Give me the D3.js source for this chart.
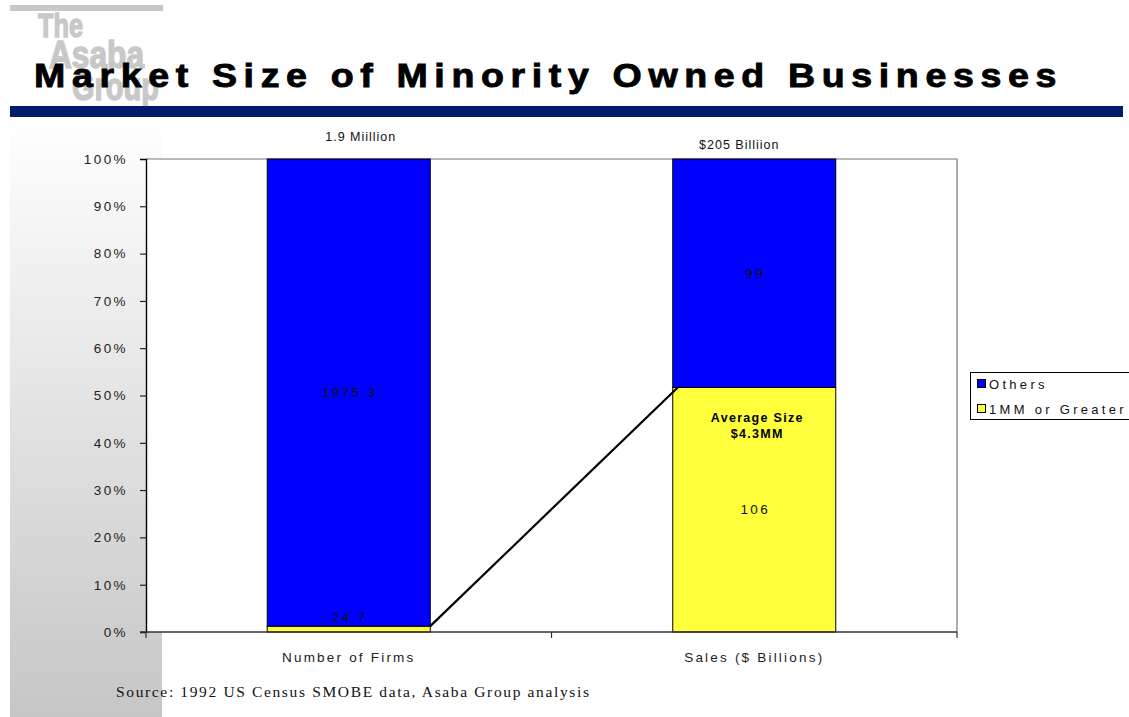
<!DOCTYPE html>
<html>
<head>
<meta charset="utf-8">
<script src="https://cdn.jsdelivr.net/npm/d3@7"></script>
<style>
  html, body { margin: 0; padding: 0; background: #fff; }
  svg { display: block; }
</style>
</head>
<body>
<svg id="chart" width="1129" height="717"></svg>
<script>
// Chart data
const categories = ["Number of Firms", "Sales ($ Billions)"];
const seriesNames = ["1MM or Greater", "Others"];
const greaterValues = [24.7, 106];
const othersValues = [1975.3, 99];
const totalLabels = ["1.9 Miillion", "$205 Billiion"];
const yTickValues = [0, 0.1, 0.2, 0.3, 0.4, 0.5, 0.6, 0.7, 0.8, 0.9, 1.0];
const seriesColors = ["#ffff3c", "#0000ff"];
const legendOrder = ["Others", "1MM or Greater"];
const titleText = "Market Size of Minority Owned Businesses";
const sourceText = "Source: 1992 US Census SMOBE data, Asaba Group analysis";
const calloutLines = ["Average Size", "$4.3MM"];

const SANS = '"Liberation Sans", Arial, sans-serif';
const SERIF = '"Liberation Serif", "Times New Roman", serif';
const NARROW = '"Liberation Sans Narrow", "Liberation Sans", Arial, sans-serif';

const svg = d3.select("#chart").style("font-family", SANS);
const W = 1129, H = 717;

// Side panel gradient
const defs = svg.append("defs");
const grad = defs.append("linearGradient").attr("id", "sideGrad")
  .attr("x1", 0).attr("y1", 0).attr("x2", 0).attr("y2", 1);
grad.append("stop").attr("offset", "0%").attr("stop-color", "#ffffff");
grad.append("stop").attr("offset", "100%").attr("stop-color", "#c6c6c6");
svg.append("rect").attr("x", 10).attr("y", 118).attr("width", 152).attr("height", H - 118)
  .attr("fill", "url(#sideGrad)");

// Logo
const logoColor = "#c8c8c8";
const logo = svg.append("g");
logo.append("rect").attr("x", 10).attr("y", 5).attr("width", 153).attr("height", 6).attr("fill", logoColor);
const logoWords = [
  { t: "The", x: 38, y: 37, size: 34, len: 45 },
  { t: "Asaba", x: 49, y: 68, size: 38, len: 95 },
  { t: "Group", x: 72, y: 100, size: 38, len: 87 }
];
logo.selectAll("text").data(logoWords).enter().append("text")
  .attr("x", d => d.x).attr("y", d => d.y).text(d => d.t)
  .style("font-family", NARROW).style("font-weight", "bold")
  .style("font-size", d => d.size + "px")
  .attr("textLength", d => d.len).attr("lengthAdjust", "spacingAndGlyphs")
  .style("fill", logoColor).style("stroke", logoColor).style("stroke-width", 1.4);

// Title
svg.append("text").attr("x", 34).attr("y", 87).text(titleText)
  .style("font-family", SANS).style("font-weight", "bold").style("font-size", "34px")
  .style("letter-spacing", "6px")
  .attr("textLength", 1029).attr("lengthAdjust", "spacingAndGlyphs")
  .style("fill", "#000").style("stroke", "#000").style("stroke-width", 0.9);

// Title rule
svg.append("rect").attr("x", 10).attr("y", 106).attr("width", 1113).attr("height", 11)
  .attr("fill", "#001b6e");

// Plot area
const plot = { left: 146, right: 957, top: 159, bottom: 632 };

const x = d3.scaleBand().domain(categories)
  .range([plot.left, plot.right]).paddingInner(0.598).paddingOuter(0.299);
const y = d3.scaleLinear().domain([0, 1]).range([plot.bottom, plot.top]);

const rows = categories.map((c, i) => ({
  category: c,
  "1MM or Greater": greaterValues[i],
  "Others": othersValues[i]
}));
const stacked = d3.stack().keys(seriesNames).offset(d3.stackOffsetExpand)(rows);
const color = d3.scaleOrdinal().domain(seriesNames).range(seriesColors);

svg.append("rect").attr("x", plot.left).attr("y", plot.top)
  .attr("width", plot.right - plot.left).attr("height", plot.bottom - plot.top)
  .attr("fill", "#fff");

// Plot border (top and right)
svg.append("path")
  .attr("d", `M${plot.left},${plot.top}H${plot.right}V${plot.bottom}`)
  .attr("fill", "none").attr("stroke", "#777").attr("stroke-width", 1.2);

// Bars
const barG = svg.append("g");
stacked.forEach(layer => {
  barG.selectAll(null).data(layer).enter().append("rect")
    .attr("x", d => x(d.data.category))
    .attr("width", x.bandwidth())
    .attr("y", d => y(d[1]))
    .attr("height", d => y(d[0]) - y(d[1]))
    .attr("fill", color(layer.key))
    .attr("stroke", "#000").attr("stroke-width", 1);
});

// Connector between the tops of the "1MM or Greater" segments
const gLayer = stacked[0];
svg.append("line")
  .attr("x1", x(categories[0]) + x.bandwidth()).attr("y1", y(gLayer[0][1]))
  .attr("x2", x(categories[1]) + 5).attr("y2", y(gLayer[1][1]))
  .attr("stroke", "#000").attr("stroke-width", 2.2);

// Axes
const yAxis = d3.axisLeft(y).tickValues(yTickValues).tickSize(6).tickPadding(12)
  .tickFormat(d => Math.round(d * 100) + "%");
const yG = svg.append("g").attr("transform", `translate(${plot.left},0)`).call(yAxis);
yG.select(".domain").attr("stroke", "#000").attr("stroke-width", 1.4);
yG.selectAll(".tick line").attr("stroke", "#000");
yG.selectAll(".tick text").style("font-size", "13.5px").style("letter-spacing", "2.4px")
  .style("font-family", SANS).attr("fill", "#222");

const xAxis = d3.axisBottom(x).tickSize(0).tickSizeOuter(0).tickPadding(20);
const xG = svg.append("g").attr("transform", `translate(0,${plot.bottom})`).call(xAxis);
xG.select(".domain").attr("stroke", "#333").attr("stroke-width", 1.4)
  .attr("d", `M${plot.left - 6},0H${plot.right}`);
xG.selectAll(".tick text").style("font-size", "13.5px").style("letter-spacing", "2.2px")
  .style("font-family", SANS).attr("fill", "#222");
// Category separator ticks
const sepTicks = [plot.left, (plot.left + plot.right) / 2, plot.right];
xG.selectAll(".sep").data(sepTicks).enter().append("line")
  .attr("x1", d => d).attr("x2", d => d).attr("y1", 0).attr("y2", 6)
  .attr("stroke", "#333").attr("stroke-width", 1.2);

// Segment value labels
const labelG = svg.append("g").style("font-size", "13.5px").style("letter-spacing", "2.4px")
  .attr("text-anchor", "middle").attr("fill", "#111");
stacked.forEach((layer, li) => {
  layer.forEach((d, i) => {
    const v = li === 0 ? greaterValues[i] : othersValues[i];
    const cx = x(d.data.category) + x.bandwidth() / 2;
    const h = y(d[0]) - y(d[1]);
    const cy = h < 20 ? y(d[1]) - 9 : (y(d[0]) + y(d[1])) / 2;
    labelG.append("text").attr("x", cx + 1).attr("y", cy).attr("dy", "0.35em").text(v);
  });
});

// Totals above bars
const totalOffsets = [{ dx: 12, y: 137 }, { dx: -15, y: 145 }];
svg.append("g").selectAll("text").data(totalLabels).enter().append("text")
  .attr("x", (d, i) => x(categories[i]) + x.bandwidth() / 2 + totalOffsets[i].dx)
  .attr("y", (d, i) => totalOffsets[i].y).attr("dy", "0.35em")
  .attr("text-anchor", "middle").style("font-size", "12.5px").style("letter-spacing", "1px")
  .attr("fill", "#111").text(d => d);

// Callout inside the sales "1MM or Greater" segment
const calloutX = x(categories[1]) + x.bandwidth() / 2 + 3;
svg.append("g").selectAll("text").data(calloutLines).enter().append("text")
  .attr("x", calloutX).attr("y", (d, i) => 418 + i * 16).attr("dy", "0.35em")
  .attr("text-anchor", "middle").style("font-weight", "bold").style("font-size", "12.5px")
  .style("letter-spacing", "1.3px").attr("fill", "#000").text(d => d);

// Legend
const lg = svg.append("g");
lg.append("rect").attr("x", 970.5).attr("y", 372.5).attr("width", 170).attr("height", 47)
  .attr("fill", "#fff").attr("stroke", "#000").attr("stroke-width", 1);
const legendRows = lg.selectAll("g.row").data(legendOrder).enter().append("g")
  .attr("class", "row").attr("transform", (d, i) => `translate(0,${384 + i * 25})`);
legendRows.append("rect").attr("x", 977.5).attr("y", -4.5).attr("width", 8).attr("height", 8)
  .attr("fill", d => color(d)).attr("stroke", "#000").attr("stroke-width", 1);
legendRows.append("text").attr("x", 989).attr("y", 0).attr("dy", "0.35em")
  .style("font-size", "13px").style("letter-spacing", "3.3px").attr("fill", "#111").text(d => d);

// Source note
svg.append("text").attr("x", 116).attr("y", 697).text(sourceText)
  .style("font-family", SERIF).style("font-size", "15.5px")
  .attr("textLength", 473).attr("lengthAdjust", "spacing")
  .attr("fill", "#111");
</script>
</body>
</html>
